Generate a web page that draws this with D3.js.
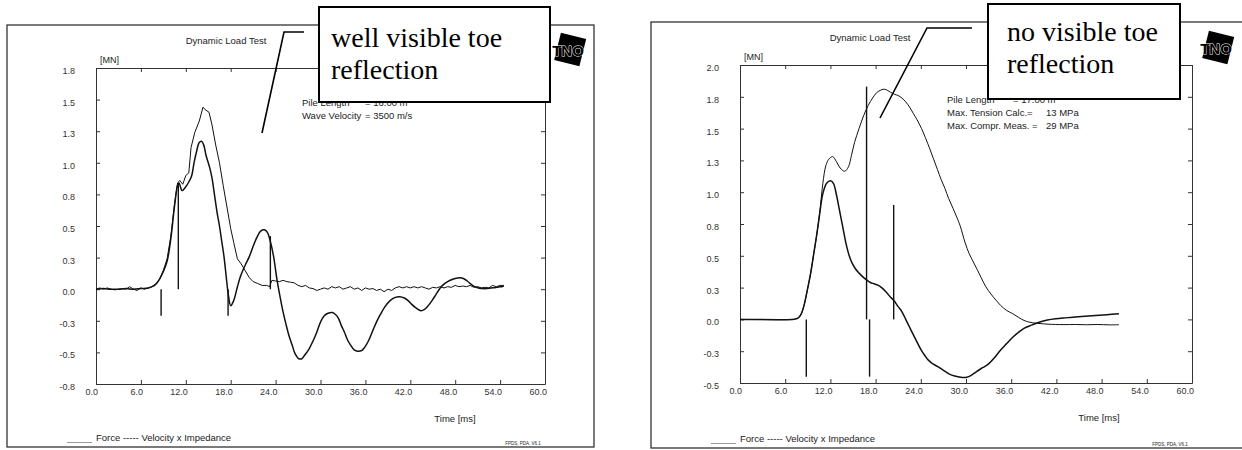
<!DOCTYPE html>
<html><head><meta charset="utf-8">
<script src="https://cdn.jsdelivr.net/npm/d3@7"></script>
<style>body{margin:0;background:#fff}svg{display:block}</style>
</head><body>
<svg id="c" width="1242" height="450"></svg>
<script>
// ---------- data ----------
const timeTicks  = [0, 6, 12, 18, 24, 30, 36, 42, 48, 54, 60];
const timeLabels = ["0.0","6.0","12.0","18.0","24.0","30.0","36.0","42.0","48.0","54.0","60.0"];

const leftYTicks  = [-0.75,-0.5,-0.25,0,0.25,0.5,0.75,1.0,1.25,1.5,1.75];
const leftYLabels = ["-0.8","-0.5","-0.3","0.0","0.3","0.5","0.8","1.0","1.3","1.5","1.8"];
const rightYTicks  = [-0.5,-0.25,0,0.25,0.5,0.75,1.0,1.25,1.5,1.75,2.0];
const rightYLabels = ["-0.5","-0.3","0.0","0.3","0.5","0.8","1.0","1.3","1.5","1.8","2.0"];

// left test: [time ms, MN]
const leftForce = [[0,0],[0.5,0.01],[1,0],[1.5,0.01],[2,0],[2.5,-0.005],[3,0],[3.5,0.005],[4,0],[4.5,0.02],[5,0],[5.5,-0.01],[6,0.01],[6.5,0],[7,0.01],[7.5,0.02],[8,0.04],[8.5,0.08],[9,0.15],[9.5,0.24],[10,0.42],[10.5,0.68],[10.9,0.84],[11.2,0.86],[11.6,0.83],[12.0,0.9],[12.4,0.92],[12.7,1.12],[13.2,1.24],[13.8,1.33],[14.3,1.44],[14.6,1.42],[15.1,1.4],[15.5,1.3],[16.0,1.14],[16.5,1.0],[17.0,0.82],[17.5,0.65],[18.0,0.48],[18.4,0.37],[18.9,0.24],[19.4,0.2],[19.9,0.15],[20.5,0.09],[21.0,0.06],[21.6,0.045],[22.2,0.03],[22.8,0.03],[23.2,0.02],[23.5,0.07],[24,0.065],[24.5,0.06],[25,0.07],[25.5,0.06],[26,0.055],[26.5,0.05],[27,0.03],[27.5,0.02],[28,0.03],[28.5,0.01],[29,0.005],[29.5,-0.01],[30,0],[30.5,0.01],[31,0],[31.5,0.02],[32,0.01],[32.5,0.02],[33,0],[33.5,0.01],[34,0.02],[34.5,0],[35,0.01],[35.5,-0.01],[36,0.01],[36.5,0],[37,0.005],[37.5,-0.01],[38,0],[38.5,-0.02],[39,0],[39.5,-0.01],[40,0.01],[40.5,0.02],[41,0.01],[41.5,0.02],[42,0.01],[42.5,0.02],[43,0.01],[43.5,0.02],[44,0.01],[44.5,0],[45,0.015],[45.5,0.01],[46,0.02],[46.5,0.01],[47,0.02],[47.5,0.015],[48,0.03],[48.5,0.02],[49,0.025],[49.5,0.02],[50,0.03],[50.5,0.015],[51,0.02],[51.5,0.01],[52,0.015],[52.5,0.01],[53,0.03],[53.5,0.02],[54,0.03],[54.5,0.03]];
const leftVelocity = [[0,0],[1,0.005],[2,0],[3,0],[4,0.005],[5,0],[6,0.005],[7,0.01],[7.5,0.02],[8,0.04],[8.5,0.08],[9,0.14],[9.5,0.22],[10,0.4],[10.5,0.66],[10.9,0.82],[11.1,0.84],[11.5,0.78],[12.0,0.81],[12.5,0.86],[12.8,0.9],[13.1,1.0],[13.4,1.08],[13.8,1.16],[14.1,1.17],[14.4,1.14],[14.7,1.06],[15.2,0.96],[15.5,0.88],[15.8,0.76],[16.2,0.6],[16.5,0.5],[16.8,0.38],[17.1,0.26],[17.4,0.1],[17.7,-0.05],[18.0,-0.13],[18.4,-0.09],[18.9,0.02],[19.3,0.1],[19.7,0.16],[20.1,0.21],[20.5,0.26],[21.0,0.34],[21.5,0.41],[22.0,0.46],[22.5,0.47],[22.9,0.45],[23.2,0.4],[23.7,0.27],[24.2,0.07],[24.6,-0.06],[25.0,-0.18],[25.4,-0.28],[25.8,-0.37],[26.2,-0.44],[26.6,-0.51],[27.1,-0.55],[27.5,-0.55],[27.9,-0.52],[28.4,-0.48],[29.0,-0.41],[29.5,-0.34],[30.0,-0.26],[30.5,-0.21],[31.0,-0.19],[31.6,-0.185],[32.0,-0.2],[32.4,-0.23],[32.8,-0.29],[33.2,-0.34],[33.6,-0.4],[34.0,-0.44],[34.5,-0.48],[35.0,-0.49],[35.5,-0.485],[35.9,-0.46],[36.4,-0.41],[36.9,-0.34],[37.4,-0.27],[38.0,-0.2],[38.6,-0.14],[39.3,-0.09],[40.0,-0.065],[40.6,-0.06],[41.2,-0.07],[41.7,-0.09],[42.2,-0.12],[42.7,-0.145],[43.4,-0.17],[43.9,-0.16],[44.4,-0.13],[44.9,-0.09],[45.4,-0.045],[46.0,0.01],[46.5,0.04],[47.0,0.06],[47.5,0.075],[48.0,0.085],[48.6,0.09],[49.1,0.085],[49.6,0.065],[50.1,0.04],[50.6,0.02],[51.1,0.01],[51.7,0.005],[52.2,0.005],[52.8,0.01],[53.3,0.012],[53.8,0.018],[54.2,0.02],[54.5,0.025]];
// marker lines: [time, from, to]
const leftMarkers = [[8.7,0,-0.21],[11.0,0,0.84],[17.65,0,-0.21],[23.3,0,0.42]];

// right test
const rightForce = [[0,0],[7,0],[7.3,0.003],[7.7,0.01],[8.1,0.04],[8.5,0.11],[8.9,0.22],[9.4,0.37],[9.8,0.52],[10.2,0.67],[10.6,0.85],[11.0,1.07],[11.4,1.21],[11.8,1.26],[12.3,1.28],[12.8,1.24],[13.3,1.19],[13.9,1.165],[14.4,1.2],[14.8,1.29],[15.2,1.39],[15.8,1.5],[16.4,1.6],[17.0,1.68],[17.6,1.74],[18.1,1.78],[18.6,1.8],[19.1,1.81],[19.6,1.8],[20.0,1.785],[20.5,1.77],[21.0,1.76],[21.5,1.74],[22.0,1.71],[22.5,1.67],[23.0,1.62],[23.5,1.57],[24.1,1.5],[24.6,1.43],[25.2,1.34],[25.7,1.26],[26.2,1.18],[26.7,1.1],[27.2,1.03],[27.7,0.95],[28.3,0.87],[28.8,0.8],[29.2,0.74],[29.9,0.6],[30.4,0.52],[30.9,0.46],[31.5,0.39],[32.0,0.33],[32.6,0.26],[33.3,0.2],[34.0,0.15],[34.6,0.11],[35.4,0.07],[36.2,0.045],[37.0,0.015],[37.7,-0.008],[38.3,-0.02],[38.8,-0.026],[39.5,-0.031],[40.3,-0.035],[41.0,-0.038],[41.9,-0.04],[43,-0.041],[44.5,-0.04],[46,-0.042],[47.5,-0.04],[49,-0.043],[50.3,-0.042]];
const rightVelocity = [[0,0],[7,0],[7.3,0.003],[7.7,0.01],[8.1,0.04],[8.5,0.11],[8.9,0.22],[9.4,0.37],[9.8,0.52],[10.2,0.67],[10.6,0.84],[11.0,0.99],[11.5,1.07],[12.0,1.09],[12.4,1.07],[12.8,0.98],[13.2,0.86],[13.6,0.74],[14.1,0.59],[14.5,0.5],[14.9,0.44],[15.3,0.4],[15.7,0.37],[16.2,0.34],[16.8,0.31],[17.3,0.29],[17.8,0.28],[18.3,0.27],[18.8,0.25],[19.4,0.215],[19.9,0.18],[20.4,0.15],[21.0,0.1],[21.5,0.06],[22.0,0],[22.5,-0.06],[23.0,-0.12],[23.6,-0.19],[24.1,-0.245],[24.6,-0.29],[25.0,-0.32],[25.5,-0.345],[26.2,-0.37],[27.0,-0.4],[27.8,-0.43],[28.5,-0.445],[29.3,-0.455],[30.1,-0.455],[30.7,-0.44],[31.4,-0.41],[32.2,-0.38],[33.0,-0.35],[33.8,-0.3],[34.6,-0.24],[35.4,-0.19],[36.2,-0.14],[37.0,-0.1],[37.7,-0.07],[38.7,-0.045],[39.8,-0.02],[40.8,-0.005],[41.9,0.005],[43.2,0.012],[44.5,0.018],[45.8,0.024],[47.2,0.03],[48.7,0.037],[50.3,0.045]];
const rightMarkers = [[8.8,0,-0.45],[16.8,0,1.83],[17.2,0,-0.45],[20.4,0,0.9]];

const leftInfo  = [["Pile Length", "=  16.00 m"], ["Wave Velocity", "=  3500 m/s"]];
const rightInfo = [["Pile Length", "= 17.00 m"], ["Max. Tension Calc.=", "13 MPa"], ["Max. Compr. Meas. =", "29 MPa"]];
const leftCallout  = ["well visible toe", "reflection"];
const rightCallout = ["no visible toe", "reflection"];

// ---------- drawing ----------
const SANS = "Liberation Sans, Arial, Helvetica, sans-serif";
const SERIF = "Liberation Serif, Times New Roman, serif";
const svg = d3.select("#c");

function drawPanel(p) {
  const g = svg.append("g");
  g.append("rect").attr("x", p.frame[0]).attr("y", p.frame[1])
    .attr("width", p.frame[2]-p.frame[0]).attr("height", p.frame[3]-p.frame[1])
    .attr("fill", "none").attr("stroke", "#222").attr("stroke-width", 1.2);

  const x = d3.scaleLinear().domain([0, 60]).range([p.x0, p.x1]);
  const y = d3.scaleLinear().domain([p.yTicks[0], p.yTicks[p.yTicks.length-1]]).range([p.y1, p.y0]);

  const style = sel => {
    sel.attr("font-family", SANS).attr("font-size", 9);
    sel.select(".domain").attr("stroke", "#333");
    sel.selectAll(".tick line").attr("stroke", "#333");
    sel.selectAll(".tick text").attr("fill", "#333");
  };
  g.append("g").attr("transform", `translate(0,${p.y1})`)
    .call(d3.axisBottom(x).tickValues(timeTicks).tickFormat((d,i)=>timeLabels[i])
      .tickSizeInner(-4).tickSizeOuter(0).tickPadding(5))
    .call(style).call(s => s.selectAll(".tick text").attr("text-anchor","end").attr("x", 1.5));
  g.append("g").attr("transform", `translate(0,${p.y0})`)
    .call(d3.axisTop(x).tickValues(timeTicks).tickFormat("").tickSizeInner(-4).tickSizeOuter(0))
    .call(style);
  g.append("g").attr("transform", `translate(${p.x0},0)`)
    .call(d3.axisLeft(y).tickValues(p.yTicks).tickFormat((d,i)=>p.yLabels[i])
      .tickSizeInner(-4).tickSizeOuter(0).tickPadding(21))
    .call(style).call(s => s.selectAll(".tick text").attr("dy", "0.6em"));
  g.append("g").attr("transform", `translate(${p.x1},0)`)
    .call(d3.axisRight(y).tickValues(p.yTicks).tickFormat("").tickSizeInner(-4).tickSizeOuter(0))
    .call(style);

  const txt = (s, tx, ty, size, anchor) => g.append("text").text(s).attr("x", tx).attr("y", ty)
      .attr("font-family", SANS).attr("font-size", size).attr("fill", "#222")
      .attr("text-anchor", anchor || "start");

  txt("Dynamic Load Test", p.titleX, p.titleY, 9.5, "middle");
  txt("[MN]", p.x0 + 4, p.y0 - 5, 9);
  txt("Time [ms]", p.x0 + 359, p.y1 + 38, 9.5, "middle");
  g.append("line").attr("x1", p.x0 - 29).attr("x2", p.x0 - 4)
    .attr("y1", p.frame[3] - 4.5).attr("y2", p.frame[3] - 4.5).attr("stroke", "#999").attr("stroke-width", 1);
  txt("Force  ----- Velocity x Impedance", p.x0, p.frame[3] - 6, 9.5);
  txt("FPDS, PDA, V6.1", p.x1 - 22, p.frame[3] - 2, 4.5, "middle");

  // curves
  const lineLin = d3.line().x(d => x(d[0])).y(d => y(d[1]));
  const lineSm = d3.line().x(d => x(d[0])).y(d => y(d[1])).curve(d3.curveCatmullRom.alpha(0.5));
  g.append("path").datum(p.force).attr("d", p.forceNoisy ? lineLin : lineSm)
    .attr("fill", "none").attr("stroke", "#111").attr("stroke-width", 1.0).attr("stroke-linejoin", "round");
  g.append("path").datum(p.velocity).attr("d", lineSm)
    .attr("fill", "none").attr("stroke", "#111").attr("stroke-width", 1.5).attr("stroke-linejoin", "round");

  g.selectAll("line.marker").data(p.markers).join("line").attr("class", "marker")
    .attr("x1", d => x(d[0])).attr("x2", d => x(d[0]))
    .attr("y1", d => y(d[1])).attr("y2", d => y(d[2]))
    .attr("stroke", "#111").attr("stroke-width", 1.4);

  // info text
  p.info.forEach((r, i) => {
    txt(r[0], p.infoX, p.infoY + i * p.infoDy, 9.5);
    txt(r[1], p.infoValX[i], p.infoY + i * p.infoDy, 9.5);
  });

  // callout leader + box
  g.append("polyline").attr("points", p.leader.map(d => d.join(",")).join(" "))
    .attr("fill", "none").attr("stroke", "#000").attr("stroke-width", 1.6);
  g.append("rect").attr("x", p.box[0]).attr("y", p.box[1])
    .attr("width", p.box[2]-p.box[0]).attr("height", p.box[3]-p.box[1])
    .attr("fill", "#fff").attr("stroke", "#000").attr("stroke-width", 2);
  p.callout.forEach((s, i) => {
    g.append("text").text(s).attr("x", p.box[0] + p.textDx).attr("y", p.textY[i])
      .attr("font-family", SERIF).attr("font-size", 28).attr("fill", "#000");
  });

  // logo
  const lg = g.append("g").attr("transform", `translate(${p.logo[0]},${p.logo[1]})`);
  lg.append("rect").attr("x", -11).attr("y", -15).attr("width", 26).attr("height", 28)
    .attr("transform", "rotate(14)").attr("fill", "#000");
  lg.append("text").text("TNO").attr("x", 0).attr("y", 6).attr("text-anchor", "middle")
    .attr("font-family", SANS).attr("font-weight", "bold").attr("font-size", 15)
    .attr("fill", "#000").attr("stroke", "#fff").attr("stroke-width", 0.9).attr("paint-order", "stroke");
}

drawPanel({
  frame: [7, 25, 594, 447], x0: 96, x1: 545, y0: 68, y1: 384,
  yTicks: leftYTicks, yLabels: leftYLabels, titleX: 226, titleY: 44,
  force: leftForce, velocity: leftVelocity, forceNoisy: true, markers: leftMarkers,
  info: leftInfo, infoX: 302, infoY: 106, infoDy: 12.5, infoValX: [365, 365],
  leader: [[304, 32], [284, 32], [262, 133]], box: [319, 7, 550, 102],
  callout: leftCallout, textDx: 12, textY: [47, 79], logo: [568, 50]
});
drawPanel({
  frame: [651, 22, 1246, 448], x0: 740, x1: 1192, y0: 65, y1: 383,
  yTicks: rightYTicks, yLabels: rightYLabels, titleX: 870, titleY: 41,
  force: rightForce, velocity: rightVelocity, forceNoisy: false, markers: rightMarkers,
  info: rightInfo, infoX: 947, infoY: 103, infoDy: 13, infoValX: [1013, 1046, 1046],
  leader: [[972, 28], [927, 28], [880, 118]], box: [988, 4, 1180, 99],
  callout: rightCallout, textDx: 19, textY: [41, 73], logo: [1216, 48]
});
</script>
</body></html>
